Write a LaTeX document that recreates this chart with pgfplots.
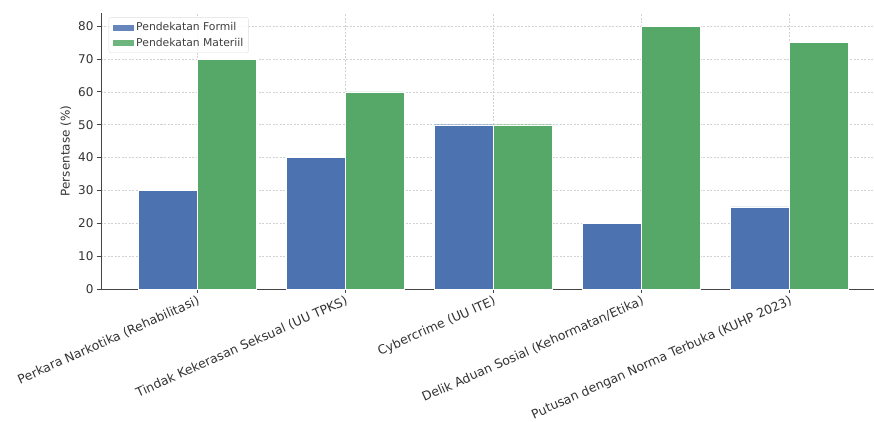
\documentclass[border=0pt]{standalone}
\usepackage{pgfplots}
\pgfplotsset{compat=1.18}
\usepackage{fontspec}
\setmainfont{DejaVu Sans}
\definecolor{cblue}{HTML}{4C72B0}
\definecolor{cgreen}{HTML}{55A868}
\definecolor{spine}{HTML}{444444}
\begin{document}
\begin{tikzpicture}
\path[use as bounding box] (-101pt,-132pt) rectangle (773pt,289pt);
\begin{axis}[
  scale only axis,
  width=773pt, height=276pt,
  xmin=-0.65, xmax=4.57,
  ymin=0, ymax=84,
  ytick={0,10,...,80},
  xtick={0,1,2,3,4},
  xticklabels={Perkara Narkotika (Rehabilitasi),Tindak Kekerasan Seksual (UU TPKS),Cybercrime (UU ITE),Delik Aduan Sosial (Kehormatan/Etika),Putusan dengan Norma Terbuka (KUHP 2023)},
  x tick label style={rotate=24,anchor=north east,inner sep=1.5pt,font=\fontsize{12.5}{14}\selectfont,text=black!80},
  y tick label style={font=\fontsize{12}{14}\selectfont,text=black!80},
  /pgf/number format/assume math mode=true,
  ylabel={Persentase (\%)},
  ylabel style={font=\fontsize{12}{14}\selectfont,text=black!80},
  axis x line*=bottom, axis y line*=left,
  axis line style={spine,line width=0.8pt,-},
  tick style={spine,line width=0.8pt},
  tick align=outside,
  major tick length=4pt,
  xmajorgrids, ymajorgrids,
  grid style={dash pattern=on 2pt off 1.5pt,gray!35,line width=0.5pt},
  ybar, bar width=59pt,
  legend style={at={(0.01,0.985)},anchor=north west,draw=gray!25,fill=white,fill opacity=0.85,text opacity=1,font=\fontsize{10.8}{12}\selectfont,text=black!75,rounded corners=2pt,row sep=2pt,inner sep=3pt},
  legend cell align=left,
  legend image code/.code={\fill[#1,sharp corners] (0pt,-3.5pt) rectangle (22pt,3.5pt);},
]
\addplot[fill=cblue,draw=white,line width=0.3pt,bar shift=-29.5pt] coordinates {(0,30) (1,40) (2,50) (3,20) (4,25)};
\addplot[fill=cgreen,draw=white,line width=0.3pt,bar shift=29.5pt] coordinates {(0,70) (1,60) (2,50) (3,80) (4,75)};
\legend{Pendekatan Formil,Pendekatan Materiil}
\end{axis}
\end{tikzpicture}
\end{document}
